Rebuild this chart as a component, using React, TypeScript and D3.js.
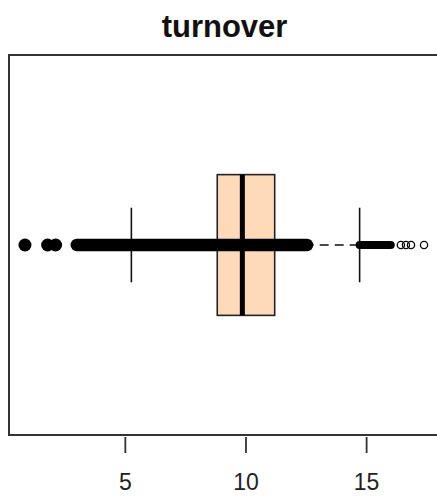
import React from "react";
import * as d3 from "d3";

// Summary of the turnover variable
const title = "turnover";
// lower whisker, first quartile, median, third quartile, upper whisker
const boxStats = [5.25, 8.81, 9.85, 11.19, 14.71];
// isolated low observations, drawn as filled dots
const lowPoints = [0.84, 1.78, 2.11];
// span covered continuously by overplotted observations
const denseRange = [2.99, 12.53];
// dense run of high outliers
const highDenseRange = [14.71, 16.0];
// separated high outliers, open circles
const highOutliers = [16.42, 16.63, 16.84, 17.38];
const tickValues = [5, 10, 15];

const W = 437;
const H = 496;

export default function App() {
  const left = 9;
  const right = 440;
  const top = 55;
  const bottom = 435;

  const lo = d3.min([...lowPoints, denseRange[0]]) as number;
  const hi = d3.max([...highOutliers, highDenseRange[1]]) as number;
  const pad = (hi - lo) * 0.04;
  const x = d3.scaleLinear().domain([lo - pad, hi + pad]).range([left, right]);
  // single box at position 1 on the vertical axis
  const y = d3
    .scaleLinear()
    .domain([0.5 - 0.04, 1.5 + 0.04])
    .range([bottom, top]);

  const [wLo, q1, med, q3, wHi] = boxStats;
  const boxHalf = 0.2;
  const capHalf = 0.106;
  const cy = y(1);

  return (
    <svg
      width={W}
      height={H}
      style={{ position: "absolute", left: 0, top: 0, background: "#fff" }}
      fontFamily="'Liberation Sans', Arial, sans-serif"
    >
      <text
        x={(left + right) / 2}
        y={37}
        textAnchor="middle"
        fontSize={31}
        fontWeight="bold"
        fill="#111"
      >
        {title}
      </text>

      {/* box */}
      <rect
        x={x(q1)}
        y={y(1 + boxHalf)}
        width={x(q3) - x(q1)}
        height={y(1 - boxHalf) - y(1 + boxHalf)}
        fill="#FFDAB9"
        stroke="#222"
        strokeWidth={1.6}
      />

      {/* whiskers */}
      <line x1={x(wLo)} x2={x(q1)} y1={cy} y2={cy} stroke="#111" strokeWidth={1.6} strokeDasharray="9,6" />
      <line x1={x(q3)} x2={x(wHi)} y1={cy} y2={cy} stroke="#111" strokeWidth={1.6} strokeDasharray="9,6" />
      <line x1={x(wLo)} x2={x(wLo)} y1={y(1 + capHalf)} y2={y(1 - capHalf)} stroke="#111" strokeWidth={1.6} />
      <line x1={x(wHi)} x2={x(wHi)} y1={y(1 + capHalf)} y2={y(1 - capHalf)} stroke="#111" strokeWidth={1.6} />

      {/* observations */}
      <line
        x1={x(denseRange[0])}
        x2={x(denseRange[1])}
        y1={cy}
        y2={cy}
        stroke="#000"
        strokeWidth={12.5}
        strokeLinecap="round"
      />
      {lowPoints.map((v, i) => (
        <circle key={i} cx={x(v)} cy={cy} r={6.5} fill="#000" />
      ))}
      <line
        x1={x(highDenseRange[0])}
        x2={x(highDenseRange[1])}
        y1={cy}
        y2={cy}
        stroke="#000"
        strokeWidth={8}
        strokeLinecap="round"
      />
      {highOutliers.map((v, i) => (
        <circle key={i} cx={x(v)} cy={cy} r={3.6} fill="none" stroke="#000" strokeWidth={1.3} />
      ))}

      {/* median */}
      <line x1={x(med)} x2={x(med)} y1={y(1 + boxHalf)} y2={y(1 - boxHalf)} stroke="#000" strokeWidth={5} />

      {/* plot frame */}
      <rect
        x={left}
        y={top}
        width={right - left}
        height={bottom - top}
        fill="none"
        stroke="#333"
        strokeWidth={2}
      />

      {/* x axis */}
      {tickValues.map((t) => (
        <g key={t}>
          <line x1={x(t)} x2={x(t)} y1={bottom + 2} y2={bottom + 18} stroke="#333" strokeWidth={1.8} />
          <text x={x(t)} y={490} textAnchor="middle" fontSize={23} fill="#222">
            {t}
          </text>
        </g>
      ))}
    </svg>
  );
}
